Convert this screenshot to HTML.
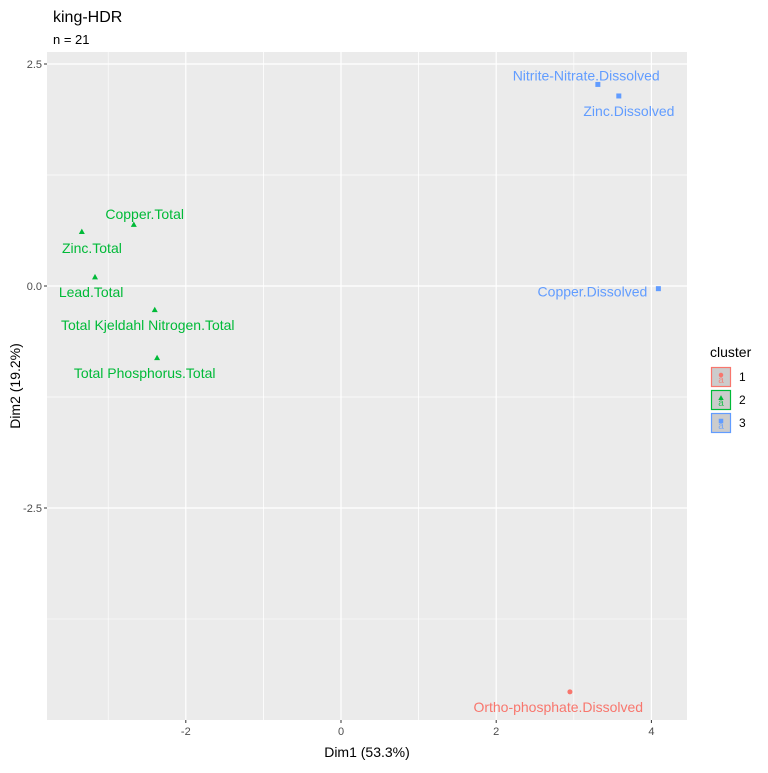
<!DOCTYPE html>
<html><head><meta charset="utf-8"><style>body{margin:0;background:#fff}svg{font-family:"Liberation Sans",Arial,sans-serif}</style></head>
<body>
<svg id="c" width="768" height="768" xmlns="http://www.w3.org/2000/svg"></svg>
<script>
const names=["Nitrite-Nitrate.Dissolved","Zinc.Dissolved","Copper.Dissolved","Ortho-phosphate.Dissolved","Copper.Total","Zinc.Total","Lead.Total","Total Kjeldahl Nitrogen.Total","Total Phosphorus.Total"];
const dim1=[3.31,3.58,4.09,2.95,-2.67,-3.34,-3.17,-2.40,-2.37];
const dim2=[2.27,2.14,-0.03,-4.57,0.69,0.61,0.10,-0.27,-0.81];
const clusters=[3,3,3,1,2,2,2,2,2];
const labelX=[3.16,3.71,3.24,2.80,-2.53,-3.21,-3.22,-2.49,-2.53];
const labelY=[2.37,1.97,-0.06,-4.74,0.81,0.43,-0.07,-0.44,-0.98];
const xTicks=[-2,0,2,4];
const yTicks=[-2.5,0,2.5];
const yTickLabels=["-2.5","0.0","2.5"];
const colors={1:"#F8766D",2:"#00BA38",3:"#619CFF"};
const L=47,R=687,T=52,B=720;
const sx=v=>341+v*77.6, sy=v=>286-v*88.8;
const svg=document.getElementById('c');const NS="http://www.w3.org/2000/svg";
function mk(t,a,txt){const e=document.createElementNS(NS,t);for(const k in a)e.setAttribute(k,a[k]);if(txt!=null)e.textContent=txt;svg.appendChild(e);return e;}
let e=mk('rect',{x:L,y:T,width:R-L,height:B-T,fill:'#EBEBEB'});


for(let i=0;i<xTicks.length;i++){const v=xTicks[i];
 [v-1,v+1].forEach(m=>{const x=sx(m);if(x>L&&x<R){e=mk('line',{x1:x,x2:x,y1:T,y2:B,stroke:'#fff','stroke-width':0.6});}});
 e=mk('line',{x1:sx(v),x2:sx(v),y1:T,y2:B,stroke:'#fff','stroke-width':1.2});
 
 
 e=mk('line',{x1:sx(v),x2:sx(v),y1:B,y2:B+3,stroke:'#333'});
 e=mk('text',{x:sx(v),y:B+15,'text-anchor':'middle','font-size':11,fill:'#4D4D4D'},String(v));
 
 
}
for(let i=0;i<yTicks.length;i++){const v=yTicks[i];
 [v-1.25,v+1.25].forEach(m=>{const y=sy(m);if(y>T&&y<B){e=mk('line',{x1:L,x2:R,y1:y,y2:y,stroke:'#fff','stroke-width':0.6});}});
 e=mk('line',{x1:L,x2:R,y1:sy(v),y2:sy(v),stroke:'#fff','stroke-width':1.2});
 
 
 mk('line',{x1:L-3,x2:L,y1:sy(v),y2:sy(v),stroke:'#333'});
 e=mk('text',{x:L-5,y:sy(v)+4,'text-anchor':'end','font-size':11,fill:'#4D4D4D'},yTickLabels[i]);
 
 
}
function marker(c,x,y,s){let m;
 if(c==1)m=mk('circle',{cx:x,cy:y,r:2.5*s,fill:colors[c]});
 else if(c==2)m=mk('polygon',{points:`${x},${y-3.2*s} ${x-3*s},${y+2.2*s} ${x+3*s},${y+2.2*s}`,fill:colors[c]});
 else m=mk('rect',{x:x-2.5*s,y:y-2.5*s,width:5*s,height:5*s,fill:colors[c]});
 return m;}
for(let i=0;i<names.length;i++){
 e=marker(clusters[i],sx(dim1[i]),sy(dim2[i]),1);
 
 
 e=mk('text',{x:sx(labelX[i]),y:sy(labelY[i])+5,'text-anchor':'middle','font-size':14,fill:colors[clusters[i]]},names[i]);
 
 
}
e=mk('text',{x:53,y:22,'font-size':16,fill:'#000'},'king-HDR');


e=mk('text',{x:53,y:44,'font-size':13,fill:'#000'},'n = 21');


e=mk('text',{x:367,y:757,'text-anchor':'middle','font-size':14},'Dim1 (53.3%)');


e=mk('text',{x:0,y:0,'text-anchor':'middle','font-size':14,transform:'translate(20,386) rotate(-90)'},'Dim2 (19.2%)');


e=mk('text',{x:710,y:357,'font-size':14},'cluster');


[1,2,3].forEach((c,k)=>{const y=367+k*23;
 e=mk('rect',{x:711.5,y:y+0.5,width:19,height:19,fill:'#CCCCCC',stroke:colors[c],'stroke-width':1.2});
 
 
 marker(c,721,y+8,0.9);
 mk('text',{x:721,y:y+16,'text-anchor':'middle','font-size':10,fill:colors[c],opacity:0.8},'a');
 e=mk('text',{x:739,y:y+14,'font-size':12},String(c));
 
 
});
</script>
</body></html>
